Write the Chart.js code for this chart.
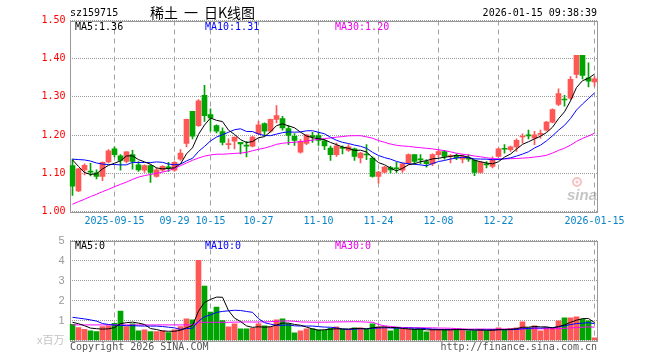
<!DOCTYPE html>
<html><head><meta charset="utf-8">
<script src="https://cdn.jsdelivr.net/npm/chart.js@4.4.1/dist/chart.umd.min.js"></script>
<style>
html,body{margin:0;padding:0;background:#fff;}
#wrap{position:relative;width:660px;height:360px;overflow:hidden;}
canvas{position:absolute;left:0;top:0;}
</style></head><body>
<div id="wrap"><canvas id="main" width="660" height="360"></canvas><canvas id="vol" width="660" height="360"></canvas></div>
<script>
// ---------------- data ----------------
const dates = [
 '2025-09-04','2025-09-05','2025-09-08','2025-09-09','2025-09-10','2025-09-11','2025-09-12','2025-09-15','2025-09-16','2025-09-17',
 '2025-09-18','2025-09-19','2025-09-22','2025-09-23','2025-09-24','2025-09-25','2025-09-26','2025-09-29','2025-09-30','2025-10-09',
 '2025-10-10','2025-10-13','2025-10-14','2025-10-15','2025-10-16','2025-10-17','2025-10-20','2025-10-21','2025-10-22','2025-10-23',
 '2025-10-24','2025-10-27','2025-10-28','2025-10-29','2025-10-30','2025-10-31','2025-11-03','2025-11-04','2025-11-05','2025-11-06',
 '2025-11-07','2025-11-10','2025-11-11','2025-11-12','2025-11-13','2025-11-14','2025-11-17','2025-11-18','2025-11-19','2025-11-20',
 '2025-11-21','2025-11-24','2025-11-25','2025-11-26','2025-11-27','2025-11-28','2025-12-01','2025-12-02','2025-12-03','2025-12-04',
 '2025-12-05','2025-12-08','2025-12-09','2025-12-10','2025-12-11','2025-12-12','2025-12-15','2025-12-16','2025-12-17','2025-12-18',
 '2025-12-19','2025-12-22','2025-12-23','2025-12-24','2025-12-25','2025-12-26','2025-12-29','2025-12-30','2025-12-31','2026-01-05',
 '2026-01-06','2026-01-07','2026-01-08','2026-01-09','2026-01-12','2026-01-13','2026-01-14','2026-01-15'
];
const tickDates  = ['2025-09-15','2025-09-29','2025-10-15','2025-10-27','2025-11-10','2025-11-24','2025-12-08','2025-12-22','2026-01-15'];
const tickLabels = ['2025-09-15','09-29','10-15','10-27','11-10','11-24','12-08','12-22','2026-01-15'];

const openP = [
 1.120,1.054,1.109,1.105,1.101,1.092,1.130,1.164,1.146,1.131,
 1.149,1.122,1.108,1.120,1.092,1.108,1.117,1.108,1.137,1.178,
 1.262,1.225,1.304,1.254,1.225,1.209,1.175,1.184,1.181,1.173,
 1.171,1.204,1.230,1.210,1.241,1.243,1.217,1.197,1.155,1.178,
 1.198,1.199,1.185,1.166,1.149,1.168,1.160,1.164,1.140,1.150,
 1.140,1.092,1.103,1.115,1.114,1.108,1.127,1.149,1.137,1.131,
 1.125,1.149,1.157,1.144,1.146,1.137,1.138,1.134,1.102,1.124,
 1.118,1.144,1.164,1.162,1.169,1.195,1.199,1.192,1.202,1.213,
 1.234,1.280,1.294,1.297,1.359,1.409,1.350,1.339
];
const highP = [
 1.137,1.113,1.125,1.126,1.109,1.130,1.162,1.169,1.149,1.157,
 1.160,1.131,1.122,1.122,1.114,1.120,1.129,1.131,1.162,1.242,
 1.262,1.293,1.330,1.269,1.227,1.219,1.190,1.195,1.181,1.184,
 1.197,1.236,1.232,1.242,1.277,1.249,1.225,1.204,1.188,1.201,
 1.207,1.207,1.188,1.171,1.179,1.172,1.175,1.166,1.155,1.175,
 1.143,1.105,1.118,1.118,1.129,1.127,1.151,1.149,1.149,1.136,
 1.151,1.162,1.160,1.149,1.151,1.149,1.149,1.136,1.131,1.131,
 1.143,1.166,1.175,1.171,1.190,1.203,1.213,1.210,1.213,1.236,
 1.269,1.321,1.304,1.353,1.409,1.409,1.389,1.353
];
const lowP = [
 1.042,1.052,1.096,1.093,1.085,1.081,1.127,1.143,1.108,1.127,
 1.111,1.105,1.102,1.076,1.090,1.105,1.105,1.105,1.134,1.169,
 1.190,1.223,1.236,1.210,1.206,1.174,1.164,1.164,1.151,1.143,
 1.169,1.201,1.197,1.207,1.232,1.213,1.175,1.173,1.153,1.175,
 1.181,1.173,1.162,1.134,1.144,1.151,1.157,1.134,1.127,1.136,
 1.090,1.074,1.101,1.101,1.102,1.102,1.123,1.123,1.125,1.116,
 1.120,1.144,1.137,1.127,1.136,1.127,1.131,1.094,1.101,1.114,
 1.114,1.143,1.153,1.157,1.157,1.179,1.190,1.175,1.192,1.210,
 1.232,1.277,1.276,1.293,1.350,1.347,1.326,1.328
];
const closeP = [
 1.066,1.112,1.121,1.103,1.092,1.129,1.159,1.149,1.134,1.156,
 1.131,1.109,1.120,1.102,1.109,1.118,1.114,1.129,1.153,1.241,
 1.197,1.290,1.251,1.245,1.210,1.181,1.178,1.195,1.177,1.171,
 1.195,1.227,1.210,1.241,1.251,1.219,1.199,1.186,1.184,1.201,
 1.196,1.186,1.172,1.149,1.172,1.165,1.169,1.144,1.153,1.148,
 1.092,1.103,1.116,1.109,1.112,1.125,1.149,1.131,1.135,1.125,
 1.149,1.157,1.144,1.146,1.140,1.144,1.137,1.102,1.129,1.122,
 1.134,1.164,1.163,1.169,1.186,1.197,1.198,1.201,1.203,1.234,
 1.267,1.309,1.292,1.346,1.409,1.356,1.341,1.347
];
// volume, millions
const volume = [
 0.81,0.65,0.56,0.48,0.45,0.70,0.73,0.86,1.47,0.70,
 0.83,0.48,0.53,0.45,0.45,0.48,0.40,0.53,0.70,1.08,
 1.03,4.01,2.72,1.42,1.67,0.99,0.68,0.83,0.58,0.58,
 0.61,0.83,0.73,0.68,1.03,1.08,0.84,0.38,0.48,0.58,
 0.60,0.53,0.51,0.61,0.68,0.56,0.53,0.63,0.63,0.56,
 0.83,0.68,0.68,0.48,0.61,0.56,0.56,0.56,0.56,0.43,
 0.56,0.56,0.56,0.53,0.56,0.56,0.48,0.48,0.56,0.48,
 0.56,0.63,0.53,0.60,0.63,0.93,0.63,0.73,0.48,0.65,
 0.65,0.98,1.13,1.13,1.18,1.06,0.98,0.13
];
const ma5Head  = [1.135,1.118,1.102,1.097];
const ma10Head = [1.137,1.136,1.135,1.132,1.127,1.124,1.123,1.123,1.122];
const ma30Head = [1.019,1.026,1.032,1.039,1.045,1.052,1.058,1.065,1.071,1.077,
                  1.084,1.090,1.094,1.097,1.100,1.103,1.107,1.113,1.120,1.127,
                  1.134,1.140,1.145,1.148,1.150,1.150,1.151,1.152,1.153];
const vma5Head  = [0.91,0.84,0.74,0.62];
const vma10Head = [1.16,1.12,1.08,1.03,0.97,0.85,0.80,0.77,0.76];
const vma30Head = [0.78,0.78,0.78,0.78,0.78,0.78,0.78,0.78,0.78,0.78,
                   0.78,0.78,0.78,0.78,0.78,0.78,0.78,0.78,0.78,0.78,
                   0.78,0.91,0.91,0.91,0.91,0.91,0.91,0.92,0.92];
const priceMin = 1.00, priceMax = 1.50, priceStep = 0.10;
const volMin = 0, volMax = 5, volStep = 1;
const volLegend = ['MA5:0','MA10:0','MA30:0'];

// ---------------- helpers ----------------
function movingAvg(values, n, head) {
  return values.map((v, i) => {
    if (i < head.length) return head[i];
    let s = 0; for (let k = i - n + 1; k <= i; k++) s += values[k];
    return s / n;
  });
}
const RED = '#ff5656', GREEN = '#00a400';
const up = closeP.map((c, i) => c >= openP[i]);
const candleColor = up.map(u => u ? RED : GREEN);
const ma5 = movingAvg(closeP, 5, ma5Head);
const ma10 = movingAvg(closeP, 10, ma10Head);
const ma30 = movingAvg(closeP, 30, ma30Head);
const vma5 = movingAvg(volume, 5, vma5Head);
const vma10 = movingAvg(volume, 10, vma10Head);
const vma30 = movingAvg(volume, 30, vma30Head);
const tickIdx = new Map(tickDates.map((d, k) => [dates.indexOf(d), tickLabels[k]]));

const MONO = '"DejaVu Sans Mono", "Liberation Mono", monospace';
const GRID_H = '#9c9c9c';
const GRID_V = '#a0a0a0';
const FRAME = '#999999';
const LEFT = 69.5, RIGHT_PAD = 62.5;

function frame() {
  return {
    id: 'frame',
    beforeDatasetsDraw(chart) {
      const c = chart.ctx; const a = chart.chartArea;
      c.save(); c.strokeStyle = FRAME; c.lineWidth = 1;
      c.strokeRect(Math.round(a.left) + 0.5, Math.round(a.top) + 0.5, Math.round(a.right) - Math.round(a.left) - 1, Math.round(a.bottom) - Math.round(a.top));
      c.restore();
    }
  };
}

function xScale(showLabels) {
  return {
    type: 'category', offset: true,
    grid: { offset: false, drawTicks: false, color: GRID_V,
            lineWidth: ctx => tickIdx.has(ctx.index) ? 1 : 0 },
    border: { display: false, dash: [5, 4] },
    ticks: showLabels ? {
      display: true, autoSkip: false, maxRotation: 0, minRotation: 0, padding: 4,
      color: '#0a84c8', font: { family: MONO, size: 10 },
      callback: (v, i) => tickIdx.has(i) ? tickIdx.get(i) : ''
    } : { display: false, autoSkip: false },
    afterFit: s => { s.height = showLabels ? 22 : 0; }
  };
}

const lineDs = (data, color) => ({ type: 'line', data, borderColor: color, borderWidth: 1, pointRadius: 0, tension: 0, order: 0, fill: false });

// ---------------- main (price) chart ----------------
new Chart(document.getElementById('main'), {
  type: 'bar',
  data: {
    labels: dates,
    datasets: [
      { data: dates.map((d, i) => [lowP[i], highP[i]]), backgroundColor: candleColor, barThickness: 1, grouped: false, order: 3, borderWidth: 0, minBarLength: 1 },
      { data: dates.map((d, i) => [Math.min(openP[i], closeP[i]), Math.max(openP[i], closeP[i])]), backgroundColor: candleColor, barThickness: 5, grouped: false, order: 2, borderWidth: 0, minBarLength: 1 },
      lineDs(ma5, '#000000'),
      lineDs(ma10, '#0000ff'),
      lineDs(ma30, '#ff00ff')
    ]
  },
  options: {
    responsive: false, animation: false, devicePixelRatio: 1,
    layout: { padding: { left: 0, right: RIGHT_PAD, top: 20.5, bottom: 360 - 211.5 - 22 } },
    plugins: { legend: { display: false }, tooltip: { enabled: false } },
    scales: {
      x: xScale(true),
      y: {
        min: priceMin, max: priceMax,
        ticks: { stepSize: priceStep, padding: 4, color: '#ff0000', font: { family: MONO, size: 10 },
                 callback: v => Number(v).toFixed(2) },
        grid: { drawTicks: false, color: GRID_H, lineWidth: 1 },
        border: { display: false, dash: [1, 1] },
        afterFit: s => { s.width = LEFT; }
      }
    }
  },
  plugins: [frame(), {
    id: 'texts',
    afterDraw(chart) {
      const c = chart.ctx;
      c.save();
      c.textBaseline = 'middle';
      c.font = '10px ' + MONO; c.fillStyle = '#000';
      c.textAlign = 'left';
      c.fillText('sz159715', 70, 13);
      c.font = '14px "Noto Sans CJK SC"';
      c.fillText('稀土', 150, 13);
      c.fillText('一', 184, 13);
      c.fillText('日K线图', 204, 13);
      c.font = '10px ' + MONO;
      c.textAlign = 'right';
      c.fillText('2026-01-15 09:38:39', 597, 13);
      c.textAlign = 'left';
      c.fillStyle = '#000'; c.fillText('MA5:' + ma5[ma5.length - 1].toFixed(2), 75, 27);
      c.fillStyle = '#0000ff'; c.fillText('MA10:' + ma10[ma10.length - 1].toFixed(2), 205, 27);
      c.fillStyle = '#ee00ee'; c.fillText('MA30:' + ma30[ma30.length - 1].toFixed(2), 335, 27);
      // sina watermark
      c.strokeStyle = 'rgba(235,120,120,0.45)'; c.lineWidth = 2;
      c.beginPath(); c.arc(577, 182, 4, 0, Math.PI * 2); c.stroke();
      c.fillStyle = 'rgba(235,120,120,0.45)';
      c.beginPath(); c.arc(577, 182, 1.5, 0, Math.PI * 2); c.fill();
      c.font = 'italic bold 15px "Liberation Sans"';
      c.fillStyle = 'rgba(150,150,150,0.55)';
      c.fillText('sina', 567, 196);
      // footer
      c.font = '10px ' + MONO; c.fillStyle = '#555';
      c.fillText('Copyright 2026 SINA.COM', 70, 347);
      c.textAlign = 'right';
      c.fillText('http://finance.sina.com.cn', 597, 347);
      c.restore();
    }
  }]
});

// ---------------- volume chart ----------------
new Chart(document.getElementById('vol'), {
  type: 'bar',
  data: {
    labels: dates,
    datasets: [
      { data: volume, backgroundColor: candleColor, barThickness: 5, grouped: false, order: 2, borderWidth: 0 },
      lineDs(vma5, '#000000'),
      lineDs(vma10, '#0000ff'),
      lineDs(vma30, '#ff00ff')
    ]
  },
  options: {
    responsive: false, animation: false, devicePixelRatio: 1,
    layout: { padding: { left: 0, right: RIGHT_PAD, top: 240.5, bottom: 360 - 340.5 } },
    plugins: { legend: { display: false }, tooltip: { enabled: false } },
    scales: {
      x: xScale(false),
      y: {
        min: volMin, max: volMax,
        ticks: { stepSize: volStep, padding: 5,
                 color: ctx => ctx.tick && ctx.tick.value === 0 ? '#c4c4c4' : '#9a9a9a',
                 font: { family: '"Liberation Sans", "Noto Sans CJK SC", sans-serif', size: 11 },
                 callback: v => v === 0 ? 'x百万' : String(v) },
        grid: { drawTicks: false, color: GRID_H, lineWidth: 1 },
        border: { display: false, dash: [1, 1] },
        afterFit: s => { s.width = LEFT; }
      }
    }
  },
  plugins: [frame(), {
    id: 'vtexts',
    afterDraw(chart) {
      const c = chart.ctx;
      c.save();
      c.textBaseline = 'middle'; c.textAlign = 'left';
      c.font = '10px ' + MONO;
      c.fillStyle = '#000'; c.fillText(volLegend[0], 75, 246);
      c.fillStyle = '#0000ff'; c.fillText(volLegend[1], 205, 246);
      c.fillStyle = '#ee00ee'; c.fillText(volLegend[2], 335, 246);
      c.restore();
    }
  }]
});
</script>
</body></html>
